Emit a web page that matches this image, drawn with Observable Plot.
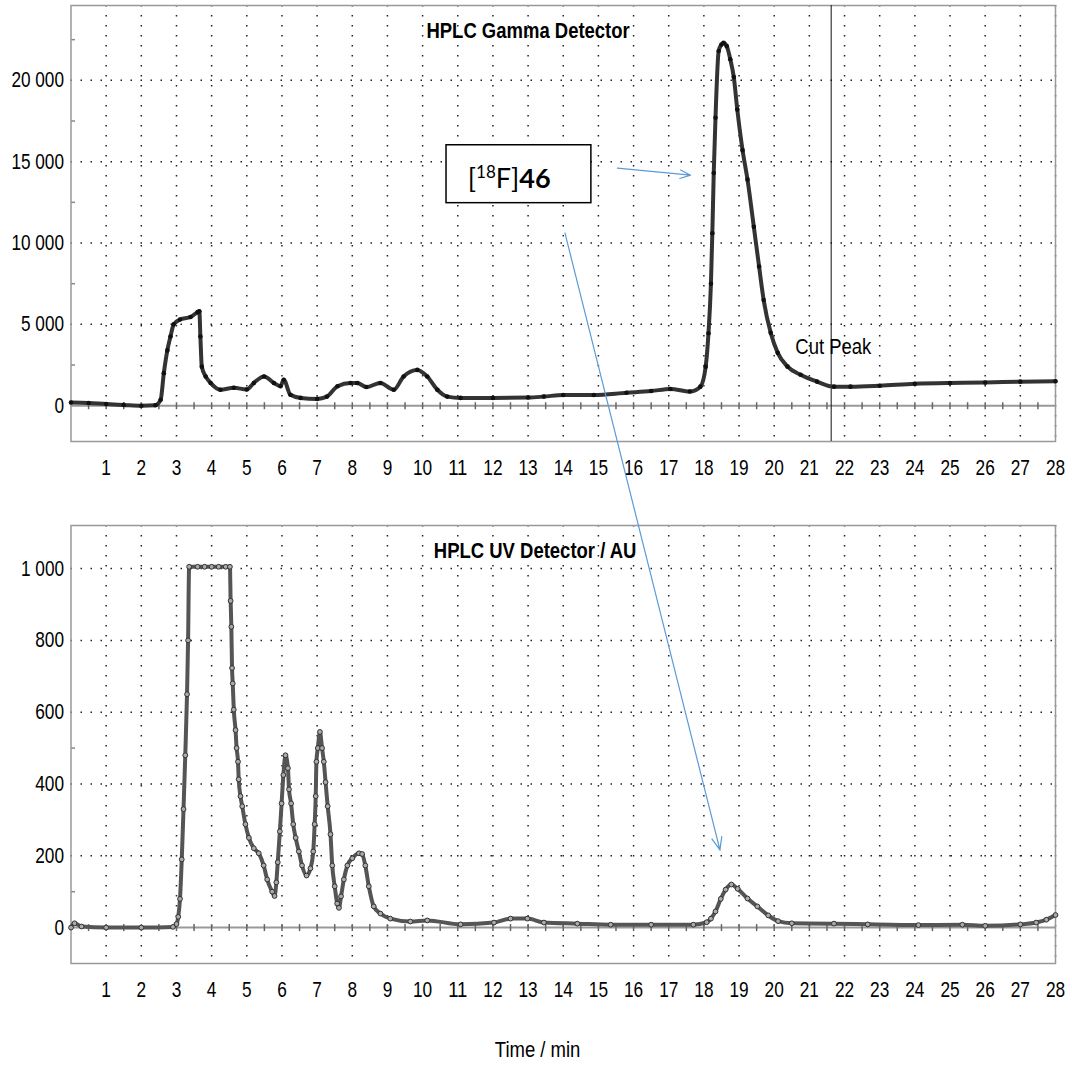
<!DOCTYPE html>
<html><head><meta charset="utf-8">
<script src="https://cdn.jsdelivr.net/npm/d3@7"></script>
<script src="https://cdn.jsdelivr.net/npm/@observablehq/plot@0.6"></script>
<style>
body{margin:0;background:#fff;}
#chart{position:relative;width:1072px;height:1065px;overflow:hidden;}
#top,#bottom{position:absolute;left:0;}
#top{top:0;} #bottom{top:520px;}
#overlay{position:absolute;left:0;top:0;pointer-events:none;}
</style></head><body><div id="chart"><div id="top"></div><div id="bottom"></div></div>
<script>
// ---- data ----
const gammaTime = [0,0.5,1,1.5,2,2.4,2.55,2.64,2.74,2.83,2.92,3.1,3.4,3.6,3.65,3.68,3.72,3.83,3.97,4.25,4.63,5.0,5.2,5.49,5.77,5.96,6.05,6.24,6.53,7.0,7.28,7.58,7.95,8.14,8.4,8.8,9.18,9.46,9.85,10.13,10.42,10.7,11.08,12,13,13.45,14,14.87,15.8,16.5,17.05,17.6,17.9,18.05,18.13,18.2,18.24,18.28,18.33,18.42,18.5,18.56,18.65,18.75,18.85,18.95,19.1,19.24,19.42,19.57,19.7,19.9,20.1,20.38,20.75,21.22,21.7,22.17,23,24,25,26,27,28];
const gammaCounts = [200,170,100,50,0,30,370,2000,3400,4250,5000,5300,5450,5750,5800,4250,2400,1800,1400,980,1100,1000,1400,1800,1400,1200,1600,670,480,420,560,1200,1400,1400,1150,1400,980,1800,2200,1800,980,560,480,480,500,560,660,660,800,900,1030,870,1170,2400,4450,7500,10600,14300,17700,21800,22200,22300,22100,21300,20200,18200,15700,13900,11000,8550,6500,4480,3250,2400,1900,1480,1170,1170,1230,1350,1400,1420,1480,1500];
const uvTime = [0,0.1,0.3,1,2,2.9,3.0,3.05,3.1,3.15,3.2,3.25,3.3,3.33,3.36,3.6,3.8,4.0,4.2,4.4,4.52,4.54,4.56,4.58,4.6,4.63,4.68,4.71,4.75,4.77,4.82,4.87,4.96,5.06,5.2,5.34,5.48,5.58,5.72,5.79,5.84,5.88,5.94,5.99,6.04,6.1,6.17,6.2,6.26,6.32,6.39,6.48,6.57,6.7,6.81,6.89,6.93,6.96,6.98,7.02,7.08,7.14,7.19,7.24,7.3,7.38,7.43,7.5,7.57,7.62,7.68,7.76,7.86,8.0,8.19,8.28,8.37,8.47,8.61,8.8,9.08,9.65,10.13,11.08,12.03,12.5,12.98,13.45,14.4,15.35,16.5,17.7,18.08,18.2,18.33,18.48,18.62,18.78,18.96,19.24,19.52,19.83,20.11,20.5,21.7,22.66,24.1,25.35,26.0,27.0,27.45,27.74,28.0];
const uvAbs = [0,12,3,0,0,2,10,30,80,190,330,480,650,800,1005,1005,1005,1005,1005,1005,1005,910,838,723,680,607,550,500,462,413,366,338,288,250,221,207,173,134,100,88,126,182,268,346,425,480,444,385,346,288,250,212,173,145,165,212,288,366,462,500,545,500,462,405,338,260,173,115,67,55,87,134,173,193,207,205,173,115,59,39,25,17,20,9,14,25,25,14,11,8,8,8,15,25,45,80,106,120,108,81,59,34,18,12,11,9,7,8,5,9,14,22,35];
const timeTicks = [1,2,3,4,5,6,7,8,9,10,11,12,13,14,15,16,17,18,19,20,21,22,23,24,25,26,27,28];
const gammaTicks = [0,5000,10000,15000,20000];
const uvTicks = [0,200,400,600,800,1000];
const gammaMinorTicks = [2500,7500,12500,17500,22500];
const uvMinorTicks = [100,500];
const cutTime = [21.62];

// ---- helpers ----
const FONT = '"Liberation Sans",Arial,Helvetica,sans-serif';
const fmt = d3.formatLocale({decimal:".", thousands:" ", grouping:[3], currency:["",""]}).format(",d");
const halfTicks = d3.range(0.5, 28, 0.5);
const vtick = {draw(ctx,size){const r=Math.sqrt(size/Math.PI); ctx.moveTo(0,-r); ctx.lineTo(0,r);}};
const htick = {draw(ctx,size){const r=Math.sqrt(size/Math.PI); ctx.moveTo(0,0); ctx.lineTo(2*r,0);}};
const gridStyle = {stroke:"#222", strokeWidth:1.5, strokeDasharray:"1.5,8.5"};
const style = {background:"transparent", overflow:"visible", fontFamily:FONT, fontSize:"22px", color:"#000"};

const gamma = gammaTime.map((t,i)=>({t, v:gammaCounts[i]}));
const uv = uvTime.map((t,i)=>({t, v:uvAbs[i]}));

const topPlot = Plot.plot({
  width:1072, height:500,
  marginLeft:70.5, marginRight:17, marginTop:5, marginBottom:59,
  style,
  x:{domain:[0,28], ticks:timeTicks, tickSize:0, tickPadding:18, tickFormat:d=>String(d), label:null},
  y:{domain:[-2200,24600], ticks:gammaTicks, tickSize:0, tickPadding:7, tickFormat:fmt, label:null},
  marks:[
    Plot.ruleX(timeTicks, gridStyle),
    Plot.ruleY(gammaTicks.filter(d=>d!==0), gridStyle),
    Plot.ruleY([0], {stroke:"#999", strokeWidth:2}),
    Plot.dot(halfTicks, {x:d=>d, y:()=>0, symbol:vtick, r:3.5, stroke:"#666", fill:"none"}),
    Plot.dot(gammaMinorTicks, {x:()=>0, y:d=>d, symbol:htick, r:2, stroke:"#888", fill:"none"}),
    Plot.frame({stroke:"#999", strokeWidth:1.5}),
    Plot.ruleX(cutTime, {stroke:"#111", strokeWidth:1}),
    Plot.line(gamma, {x:"t", y:"v", stroke:"#333", strokeWidth:4, curve:"monotone-x"}),
    Plot.dot(gamma, {x:"t", y:"v", r:2.3, fill:"#111"}),
    Plot.text([{t:13.0, s:"HPLC Gamma Detector"}], {x:"t", text:"s", frameAnchor:"top", lineAnchor:"middle", dy:25, fontWeight:"bold", fontSize:22}),
    Plot.text([{t:20.6, v:3620, s:"Cut Peak"}], {x:"t", y:"v", text:"s", textAnchor:"start", lineAnchor:"middle", fontSize:22}),
    Plot.rect([{a:10.68, b:14.8, c:12450, d:16010}], {x1:"a", x2:"b", y1:"c", y2:"d", fill:"white", stroke:"#000", strokeWidth:1.5}),
    Plot.arrow([{a:15.54, b:14600, c:17.62, d:14170}], {x1:"a", y1:"b", x2:"c", y2:"d", stroke:"#5b9bd5", strokeWidth:1.2, headLength:14, headAngle:45})
  ]
});

const bottomPlot = Plot.plot({
  width:1072, height:545,
  marginLeft:70.5, marginRight:17, marginTop:5, marginBottom:102,
  style,
  x:{domain:[0,28], ticks:timeTicks, tickSize:0, tickPadding:18, tickFormat:d=>String(d), label:null},
  y:{domain:[-100,1120], ticks:uvTicks, tickSize:0, tickPadding:7, tickFormat:fmt, label:null},
  marks:[
    Plot.ruleX(timeTicks, gridStyle),
    Plot.ruleY(uvTicks.filter(d=>d!==0), gridStyle),
    Plot.ruleY([0], {stroke:"#999", strokeWidth:2}),
    Plot.dot(halfTicks, {x:d=>d, y:()=>0, symbol:vtick, r:3.5, stroke:"#666", fill:"none"}),
    Plot.dot(uvMinorTicks, {x:()=>0, y:d=>d, symbol:htick, r:2, stroke:"#888", fill:"none"}),
    Plot.frame({stroke:"#999", strokeWidth:1.5}),
    Plot.line(uv, {x:"t", y:"v", stroke:"#555", strokeWidth:4, curve:"monotone-x"}),
    Plot.dot(uv, {x:"t", y:"v", r:2.4, fill:"#aaa", stroke:"#333", strokeWidth:1}),
    Plot.text([{t:13.2, s:"HPLC UV Detector / AU"}], {x:"t", text:"s", frameAnchor:"top", lineAnchor:"middle", dy:25, fontWeight:"bold", fontSize:22}),
    Plot.text([{t:13.27, s:"Time / min"}], {x:"t", text:"s", frameAnchor:"bottom", lineAnchor:"middle", dy:86, fontSize:22})
  ]
});

document.getElementById("top").appendChild(topPlot);
document.getElementById("bottom").appendChild(bottomPlot);

// condense chart text horizontally (narrow sans look of the original print)
function condense(svg){
  svg.querySelectorAll("text").forEach(t=>{
    const s = t.textContent;
    let w;
    if (/^[\d\s\u00a0\u202f]+$/.test(s)) {
      const digits = (s.match(/\d/g) || []).length, spaces = s.length - digits;
      w = digits*9.6 + spaces*4.6;
    } else {
      w = t.getComputedTextLength()*0.84;
    }
    if (w > 0){ t.setAttribute("textLength", w.toFixed(1)); t.setAttribute("lengthAdjust","spacingAndGlyphs"); }
  });
}
condense(topPlot);
condense(bottomPlot);

// rich label [18F]46 placed through the top plot's scales
const sxT = topPlot.scale("x"), syT = topPlot.scale("y");
const sxB = bottomPlot.scale("x"), syB = bottomPlot.scale("y");
const lab = d3.select(topPlot).append("text")
  .attr("x", sxT.apply(11.3)).attr("y", syT.apply(13370))
  .attr("text-anchor","start")
  .attr("font-family", "Lato,'Open Sans',sans-serif").attr("font-size", 27).attr("fill", "#000");
lab.append("tspan").text("[");
lab.append("tspan").attr("font-size", 17).attr("dy", -10).text("18");
lab.append("tspan").attr("dy", 10).text("F]");
lab.append("tspan").attr("font-weight", "bold").text("46");

// long arrow from the label to the UV peak, crossing both panels
const bottomOffset = 520;
const x1 = sxT.apply(14.06), y1 = syT.apply(10610);
const x2 = sxB.apply(18.47), y2 = syB.apply(215) + bottomOffset;
const ov = d3.select("#chart").append("svg").attr("id","overlay").attr("width",1072).attr("height",1065);
const ang = Math.atan2(y2-y1, x2-x1), hl = 14, ha = 22*Math.PI/180;
ov.append("path")
  .attr("d", `M${x1},${y1}L${x2},${y2}M${x2-hl*Math.cos(ang-ha)},${y2-hl*Math.sin(ang-ha)}L${x2},${y2}L${x2-hl*Math.cos(ang+ha)},${y2-hl*Math.sin(ang+ha)}`)
  .attr("fill","none").attr("stroke","#5b9bd5").attr("stroke-width",1.2);
</script></body></html>
